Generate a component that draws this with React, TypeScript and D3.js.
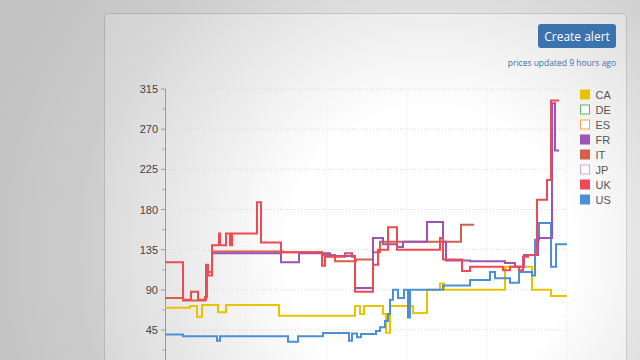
import React from "react";
import * as d3 from "d3";

type Pt = [number, number];

// time in days from start (0..402), value = price
const CA: Pt[] = [[0,70],[25,72],[32,60],[37,73],[53,65],[61,73],[114,61],[190,72],[195,63],[199,72],[218,63],[221,42],[225,72],[248,64],[262,90],[275,97],[279,90],[340,116],[367,90],[386,83],[402,83]];
const FR: Pt[] = [[47,131],[116,121],[134,131],[165,128],[190,92],[208,148],[218,141],[232,138],[238,144],[262,166],[278,144],[281,123],[305,122],[340,120],[350,116],[359,129],[373,148],[387,299],[390,246],[394,246]];
const IT: Pt[] = [[0,81],[18,78],[40,82],[42,110],[47,133],[118,132],[157,129],[170,122],[191,124],[208,132],[215,144],[296,163],[309,163]];
const UK: Pt[] = [[0,121],[18,79],[26,88],[33,79],[41,118],[43,106],[47,140],[54,153],[55,140],[61,153],[65,140],[67,153],[92,188],[96,143],[116,132],[157,117],[160,127],[180,131],[187,127],[190,88],[208,118],[213,135],[223,160],[232,135],[275,148],[278,124],[297,111],[305,116],[338,112],[345,116],[354,112],[358,127],[363,129],[372,191],[382,213],[386,302],[394,302]];
const US: Pt[] = [[0,40],[18,38],[52,33],[55,38],[123,32],[133,38],[158,41.6],[184,33],[187,41],[192,37],[196,40.5],[211,44],[215,48],[220,55],[223,63],[225,79],[228,90],[233,81],[239,90],[243,59],[245,90],[278,95],[305,101],[325,110],[330,103],[345,98],[354,110],[367,106],[370,146],[374,165],[386,116],[391,141],[402,141]];

const Y_TICKS = [45, 90, 135, 180, 225, 270, 315];
const LEGEND = ["CA", "DE", "ES", "FR", "IT", "JP", "UK", "US"];
const LEGEND_FILLED = [true, false, false, true, true, false, true, true];
const COLORS: Record<string, string> = {
  CA: "#e8c300", DE: "#5cb85c", ES: "#f0a848", FR: "#9b55b5", IT: "#d4604a",
  JP: "#d9a3d9", UK: "#ec4a54", US: "#4b8fd6",
};
const SERIES: [string, Pt[]][] = [["CA", CA], ["US", US], ["IT", IT], ["FR", FR], ["UK", UK]];

export default function App() {
  const W = 640, H = 360;
  const x = d3.scaleLinear().domain([0, 402]).range([165, 567]);
  const y = d3.scaleLinear().domain([0, 315]).range([370.2, 89]);
  const line = d3.line<Pt>().x(d => x(d[0])).y(d => y(d[1])).curve(d3.curveStepAfter);
  const minor = d3.range(22.5, 315, 45);
  const vgrid = [81, 162, 242, 322, 402];
  return (
    <svg width={W} height={H} style={{ position: "absolute", left: 0, top: 0, display: "block" }}>
      <defs>
        <radialGradient id="vig" cx="430" cy="250" r="470" gradientUnits="userSpaceOnUse">
          <stop offset="0" stopColor="#000" stopOpacity="0" />
          <stop offset="0.3" stopColor="#000" stopOpacity="0" />
          <stop offset="0.75" stopColor="#000" stopOpacity="0.16" />
          <stop offset="1" stopColor="#000" stopOpacity="0.2" />
        </radialGradient>
      </defs>
      <rect x={0} y={0} width={W} height={H} fill="#f2f2f2" />
      <rect x={104.5} y={13.5} width={522} height={360} rx={4} fill="#ffffff" stroke="#d6d6d6" />
      <rect x={0} y={0} width={W} height={H} fill="url(#vig)" />
      {/* grid */}
      {Y_TICKS.map(t => (
        <line key={"h" + t} x1={166} x2={567} y1={y(t)} y2={y(t)} stroke="#d8d8d8" strokeDasharray="1,2" />
      ))}
      {vgrid.map(t => (
        <line key={"v" + t} x1={x(t)} x2={x(t)} y1={89} y2={H} stroke="#e6e6e6" strokeDasharray="1,2" />
      ))}
      {/* axis */}
      <line x1={165.5} x2={165.5} y1={89} y2={H} stroke="#9a9a9a" />
      {Y_TICKS.map(t => (
        <g key={"t" + t}>
          <line x1={161} x2={165} y1={y(t)} y2={y(t)} stroke="#9a9a9a" />
          <text x={158} y={y(t) + 4} textAnchor="end" fontFamily="Liberation Sans, Arial, sans-serif" fontSize={11} fill="#444">{t}</text>
        </g>
      ))}
      {minor.map(t => (
        <line key={"m" + t} x1={162} x2={165} y1={y(t)} y2={y(t)} stroke="#aaa" />
      ))}
      {/* series */}
      {SERIES.map(([k, d]) => (
        <path key={k} d={line(d) || ""} fill="none" stroke={COLORS[k]} strokeWidth={2} />
      ))}
      {/* legend */}
      {LEGEND.map((k, i) => (
        <g key={k} transform={`translate(580.5, ${90 + i * 15})`}>
          <rect x={0} y={0} width={9} height={9} fill={LEGEND_FILLED[i] ? COLORS[k] : "#fff"} stroke={COLORS[k]} strokeWidth={1} />
          <text x={15} y={9} fontFamily="Liberation Sans, Arial, sans-serif" fontSize={11} fill="#555">{k}</text>
        </g>
      ))}
      {/* header */}
      <rect x={538} y={24} width={78} height={24} rx={3} fill="#3b73ae" />
      <text x={577} y={40.5} textAnchor="middle" fontFamily="Open Sans, sans-serif" fontSize={12} fill="#fff">Create alert</text>
      <text x={616} y={66} textAnchor="end" fontFamily="Open Sans, sans-serif" fontSize={8.5} fill="#3d6fa6">prices updated 9 hours ago</text>
    </svg>
  );
}
